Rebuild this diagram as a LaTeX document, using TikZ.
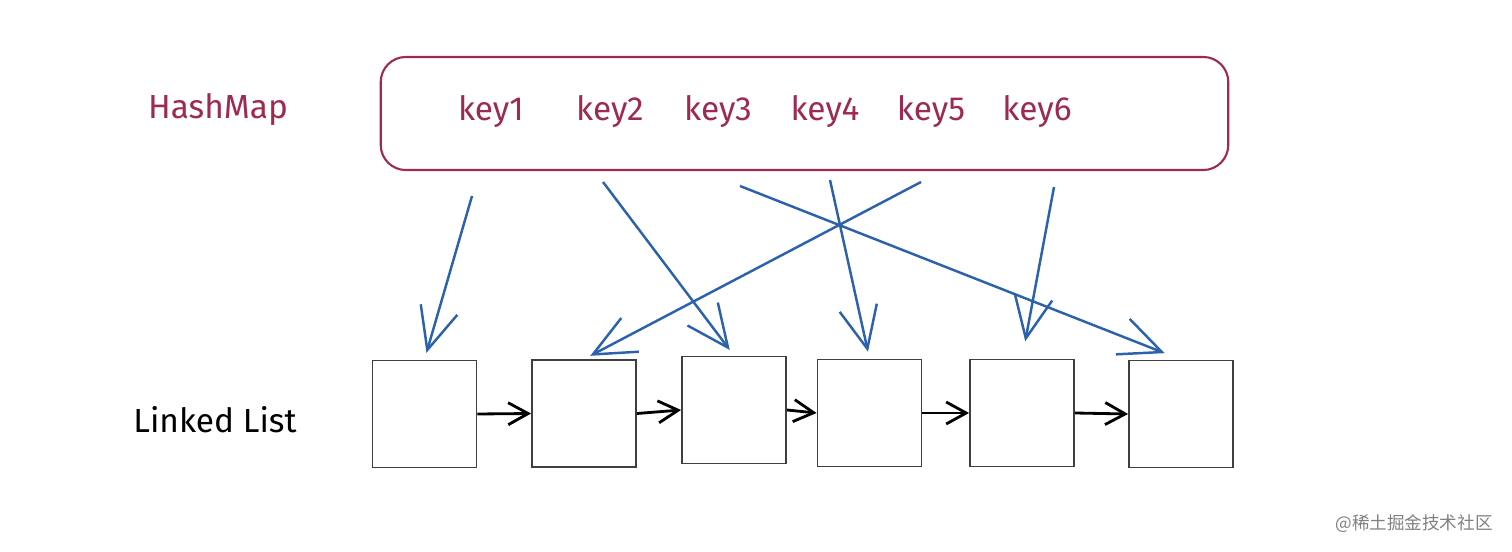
\documentclass[tikz,border=0pt]{standalone}
\usepackage{fontspec}
\setmainfont{Fira Sans}
\newfontfamily\cjk{Noto Sans CJK SC}
\usetikzlibrary{arrows.meta}
\definecolor{hashred}{HTML}{9C2A52}
\definecolor{ptrblue}{HTML}{2C62AC}
\definecolor{boxgray}{HTML}{3F3F3F}

\begin{document}
\begin{tikzpicture}[x=0.01cm, y=-0.01cm,
    every node/.style={font=\fontsize{9.5}{11}\selectfont},
    keytext/.style={text=hashred},
    cell/.style={draw=boxgray, line width=0.5pt, inner sep=0pt, minimum width=1.04cm, minimum height=1.07cm},
    ptr/.style={draw=ptrblue, line width=0.7pt, shorten >=2pt, -{Straight Barb[length=4.2mm, width=3.8mm, line width=0.7pt]}},
    nxt/.style={draw=black, line width=0.8pt, -{Straight Barb[length=2mm, width=2.2mm, line width=0.8pt]}}]
  \useasboundingbox (0,0) rectangle (1512,552);
  % hash map
  \node[keytext] (hm) at (218,110) {HashMap};
  \node[draw=hashred, line width=0.6pt, rounded corners=0.25cm, minimum width=8.47cm, minimum height=1.13cm] (map) at (804.5,113.5) {};
  \node[keytext] (k1) at (491,112) {key1};
  \node[keytext] (k2) at (610,112) {key2};
  \node[keytext] (k3) at (718,112) {key3};
  \node[keytext] (k4) at (825,112) {key4};
  \node[keytext] (k5) at (931,112) {key5};
  \node[keytext] (k6) at (1037,112) {key6};
  % linked list
  \node (ll) at (215,420) {Linked List};
  \node[cell] (b1) at (424.5,414) {};
  \node[cell] (b2) at (584,413.5) {};
  \node[cell] (b3) at (734,410) {};
  \node[cell] (b4) at (869.5,413) {};
  \node[cell] (b5) at (1022,413) {};
  \node[cell] (b6) at (1181,414) {};
  \foreach \a/\b in {b1/b2,b2/b3,b3/b4,b4/b5,b5/b6}
    \draw[nxt] (\a.east) -- (\b.west);
  % pointers from keys
  \coordinate (p1) at (472,196);
  \coordinate (p2) at (603,182);
  \coordinate (p3) at (740,186);
  \coordinate (p4) at (830,180);
  \coordinate (p5) at (921,182);
  \coordinate (p6) at (1054,187);
  \draw[ptr] (p1) -- (b1.north);
  \draw[ptr] (p2) -- (b3.north);
  \draw[ptr, shorten >=5pt] (p3) -- (b6.north);
  \draw[ptr] (p4) -- (b4.north);
  \draw[ptr] (p5) -- (b2.north);
  \draw[ptr, shorten >=5pt] (p6) -- (b5.north);
  \node[text=gray, font=\cjk\fontsize{5}{6}\selectfont] (wm) at (1414,524) {@稀土掘金技术社区};
\end{tikzpicture}
\end{document}
